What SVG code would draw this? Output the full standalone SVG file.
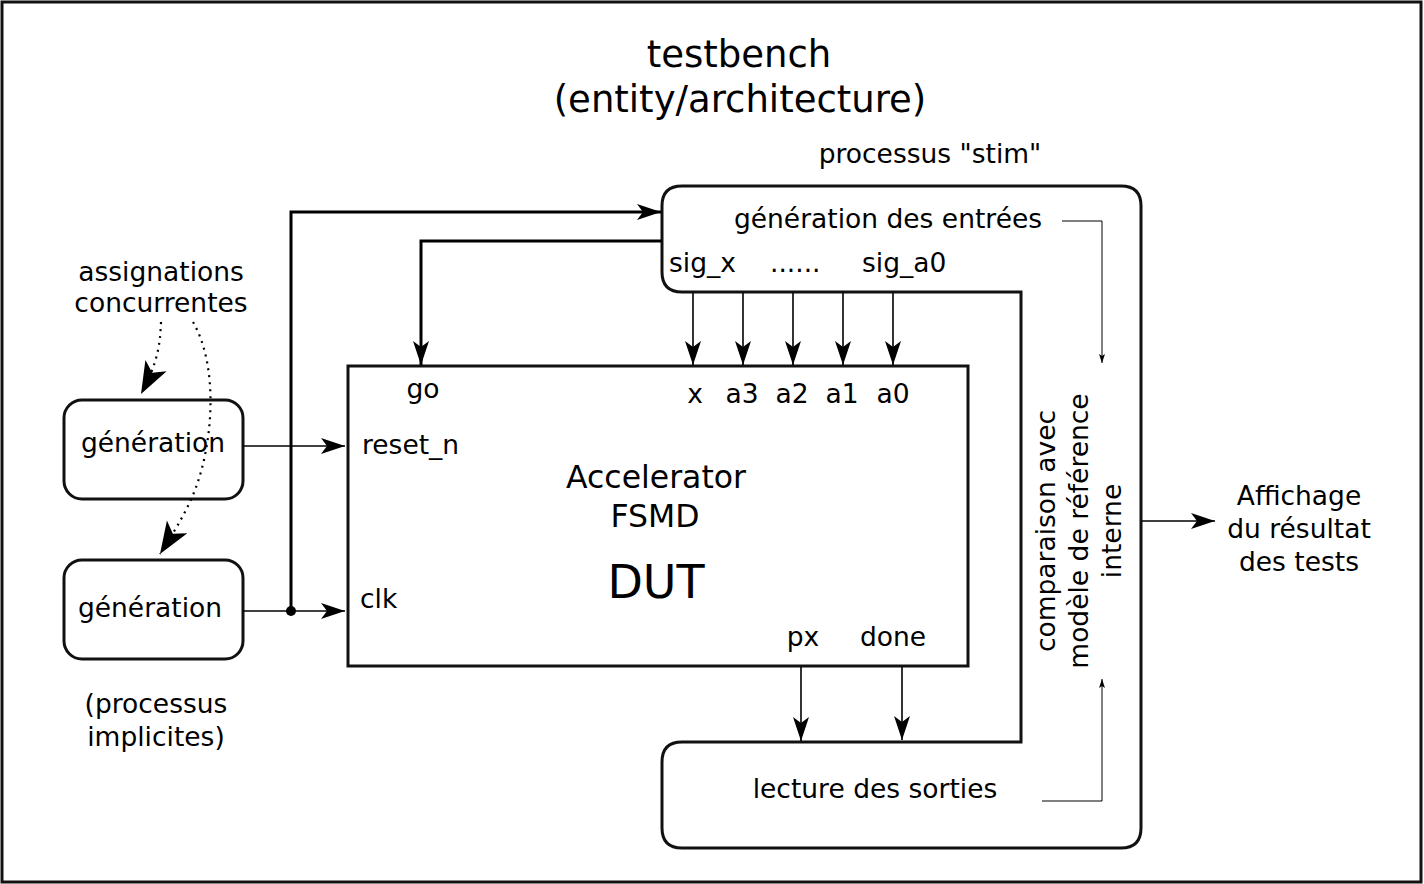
<svg xmlns="http://www.w3.org/2000/svg" width="1424" height="884" viewBox="0 0 1424 884">
<style>
text{font-family:"DejaVu Sans","Liberation Sans",sans-serif;fill:#000}
.lbl{font-size:26.5px}
.mid{text-anchor:middle}
.box{fill:none;stroke:#111;stroke-width:3}
.thick{fill:none;stroke:#000;stroke-width:3}
.thin{fill:none;stroke:#000;stroke-width:1.6}
.hair{fill:none;stroke:#000;stroke-width:1}
.dot{fill:none;stroke:#000;stroke-width:2.2;stroke-dasharray:2,5}
</style>
<defs>
<marker id="a" markerUnits="userSpaceOnUse" markerWidth="26" markerHeight="18" refX="24" refY="8" orient="auto"><path d="M0,0 L24,8 L0,16 L6,8 z" fill="#000"/></marker>
<marker id="s" markerUnits="userSpaceOnUse" markerWidth="10" markerHeight="8" refX="9" refY="3" orient="auto"><path d="M0,0 L9,3 L0,6 L2,3 z" fill="#000"/></marker>
<marker id="b" markerUnits="userSpaceOnUse" markerWidth="34" markerHeight="26" refX="32" refY="12" orient="auto"><path d="M0,0 L32,12 L0,24 L8,12 z" fill="#000"/></marker>
</defs>
<rect x="2" y="2" width="1419" height="880" fill="#fff" stroke="#111" stroke-width="3"/>
<g id="title">
<text class="mid" x="739" y="67" font-size="37">testbench</text>
<text class="mid" x="740" y="112" font-size="37">(entity/architecture)</text>
</g>
<g id="stim">
<text class="lbl mid" x="930" y="163">processus "stim"</text>
<path class="box" d="M682,186 H1121 Q1141,186 1141,206 V828 Q1141,848 1121,848 H682 Q662,848 662,828 V762 Q662,742 682,742 H1021 V292 H682 Q662,292 662,272 V206 Q662,186 682,186 Z"/>
<text class="lbl mid" x="888" y="228">génération des entrées</text>
<text class="lbl" x="669" y="272">sig_x</text>
<text class="lbl" x="770" y="272">......</text>
<text class="lbl" x="862" y="272">sig_a0</text>
<text class="lbl mid" x="875" y="798">lecture des sorties</text>
<text class="lbl mid" transform="rotate(-90)" x="-531" y="1055">comparaison avec</text>
<text class="lbl mid" transform="rotate(-90)" x="-531" y="1088">modèle de référence</text>
<text class="lbl mid" transform="rotate(-90)" x="-531" y="1121">interne</text>
</g>
<g id="dut">
<rect class="box" x="348" y="366" width="620" height="300"/>
<text class="lbl mid" x="423" y="398">go</text>
<text class="lbl mid" x="695" y="403">x</text>
<text class="lbl mid" x="742" y="403">a3</text>
<text class="lbl mid" x="792" y="403">a2</text>
<text class="lbl mid" x="842" y="403">a1</text>
<text class="lbl mid" x="893" y="403">a0</text>
<text class="lbl" x="362" y="454">reset_n</text>
<text class="lbl" x="360" y="608">clk</text>
<text class="mid" x="656" y="488" font-size="31.5">Accelerator</text>
<text class="mid" x="655" y="527" font-size="31.5">FSMD</text>
<text class="mid" x="656" y="598" font-size="46">DUT</text>
<text class="lbl mid" x="803" y="646">px</text>
<text class="lbl mid" x="893" y="646">done</text>
</g>
<g id="gen1">
<rect class="box" x="64" y="400" width="179" height="99" rx="18"/>
<text class="lbl mid" x="153" y="452">génération</text>
</g>
<g id="gen2">
<rect class="box" x="64" y="560" width="179" height="99" rx="18"/>
<text class="lbl mid" x="150" y="617">génération</text>
</g>
<g id="notes">
<text class="lbl mid" x="161" y="281">assignations</text>
<text class="lbl mid" x="161" y="312">concurrentes</text>
<text class="lbl mid" x="156" y="713">(processus</text>
<text class="lbl mid" x="156" y="746">implicites)</text>
</g>
<g id="result">
<text class="lbl mid" x="1299" y="505">Affichage</text>
<text class="lbl mid" x="1299" y="538">du résultat</text>
<text class="lbl mid" x="1299" y="571">des tests</text>
</g>
<g id="connectors">
<path class="thick" d="M291,611 V212 H661" marker-end="url(#a)"/>
<path class="thick" d="M662,241 H421 V365" marker-end="url(#a)"/>
<circle cx="291" cy="611" r="5" fill="#000"/>
<path class="thin" d="M243,446 L345,446" marker-end="url(#a)"/>
<path class="thin" d="M243,611 L345,611" marker-end="url(#a)"/>
<path class="thin" d="M693,293 V365" marker-end="url(#a)"/>
<path class="thin" d="M743,293 V365" marker-end="url(#a)"/>
<path class="thin" d="M793,293 V365" marker-end="url(#a)"/>
<path class="thin" d="M843,293 V365" marker-end="url(#a)"/>
<path class="thin" d="M893,293 V365" marker-end="url(#a)"/>
<path class="thin" d="M801,667 V741" marker-end="url(#a)"/>
<path class="thin" d="M902,667 V740" marker-end="url(#a)"/>
<path class="thin" d="M1142,521 H1215" marker-end="url(#a)"/>
<path class="hair" d="M1062,221 H1102 V363" marker-end="url(#s)"/>
<path class="hair" d="M1042,801 H1102 V679" marker-end="url(#s)"/>
<path class="dot" d="M161,322 C160,345 158,362 141,394" marker-end="url(#b)"/>
<path class="dot" d="M193,322 C218,365 214,440 195,490 C185,515 172,535 160,554" marker-end="url(#b)"/>
</g>
</svg>
